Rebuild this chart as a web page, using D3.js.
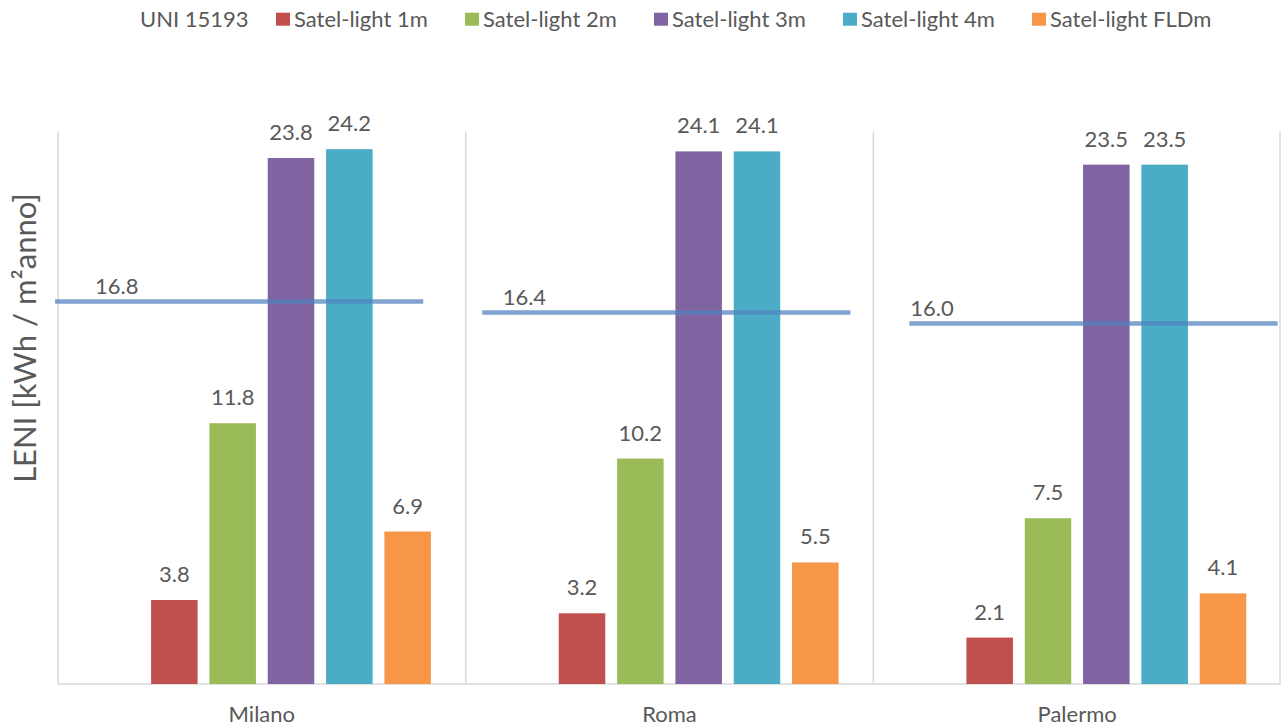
<!DOCTYPE html>
<html>
<head>
<meta charset="utf-8">
<script src="https://cdn.jsdelivr.net/npm/d3@7"></script>
<style>
  html, body { margin: 0; padding: 0; background: #fff; }
  svg { display: block; }
  text { font-family: Lato, "Open Sans", sans-serif; fill: #595959; }
</style>
</head>
<body>
<svg id="chart" width="1281" height="726"></svg>
<script>
// ---- data ----
const categories = ["Milano", "Roma", "Palermo"];
const seriesNames = ["UNI 15193", "Satel-light 1m", "Satel-light 2m", "Satel-light 3m", "Satel-light 4m", "Satel-light FLDm"];
const uni15193 = [16.8, 16.4, 16.0];
const satel1m = [3.8, 3.2, 2.1];
const satel2m = [11.8, 10.2, 7.5];
const satel3m = [23.8, 24.1, 23.5];
const satel4m = [24.2, 24.1, 23.5];
const satelFLDm = [6.9, 5.5, 4.1];
const yTitle = "LENI [kWh / m²anno]";
const colors = ["none", "#c0504d", "#9bbb59", "#8064a2", "#4bacc6", "#f79646"];

const barSeries = [
  { name: seriesNames[1], values: satel1m, color: colors[1] },
  { name: seriesNames[2], values: satel2m, color: colors[2] },
  { name: seriesNames[3], values: satel3m, color: colors[3] },
  { name: seriesNames[4], values: satel4m, color: colors[4] },
  { name: seriesNames[5], values: satelFLDm, color: colors[5] }
];

// ---- layout ----
const svg = d3.select("#chart");
const plot = { left: 58, right: 1281, top: 131.5, bottom: 684 };

const x0 = d3.scaleBand().domain(categories).range([plot.left, plot.right]).padding(0);
// six slots per category: the first one belongs to UNI 15193 (not drawn as a bar)
const x1 = d3.scaleBand().domain(d3.range(6)).range([0, x0.bandwidth()])
  .paddingInner(0.2024).paddingOuter(0.596);
const y = d3.scaleLinear().domain([0, 25]).range([plot.bottom, plot.top]);
// secondary axes used by the UNI 15193 reference segments
const x2 = d3.scaleLinear().domain([0, 3]).range([55, 55 + 3 * 427.2]);
const y2 = d3.scaleLinear().domain([2.95, 22.95]).range([plot.bottom, plot.top]);
const segLen = 0.862;

// vertical category separators
const sepX = categories.map(c => x0(c)).concat([plot.right - 1]);
svg.append("g").selectAll("line").data(sepX).join("line")
  .attr("x1", d => d).attr("x2", d => d)
  .attr("y1", plot.top).attr("y2", plot.bottom)
  .attr("stroke", "#d9d9d9").attr("stroke-width", 1.5);

// baseline axis
svg.append("line")
  .attr("x1", plot.left).attr("x2", plot.right)
  .attr("y1", plot.bottom).attr("y2", plot.bottom)
  .attr("stroke", "#d9d9d9").attr("stroke-width", 1.5);

// bars
const gBars = svg.append("g");
barSeries.forEach((s, si) => {
  gBars.selectAll(null).data(categories).join("rect")
    .attr("x", (c) => x0(c) + x1(si + 1))
    .attr("width", x1.bandwidth())
    .attr("y", (c, i) => y(s.values[i]))
    .attr("height", (c, i) => y(0) - y(s.values[i]))
    .attr("fill", s.color);
  gBars.selectAll(null).data(categories).join("text")
    .attr("x", (c) => x0(c) + x1(si + 1) + x1.bandwidth() / 2)
    .attr("y", (c, i) => y(s.values[i]) - 18)
    .attr("text-anchor", "middle")
    .attr("font-size", 22)
    .attr("fill", "#404040")
    .text((c, i) => s.values[i].toFixed(1));
});

// UNI 15193 reference segments
const gLine = svg.append("g");
gLine.selectAll("line").data(uni15193).join("line")
  .attr("x1", (d, i) => x2(i)).attr("x2", (d, i) => x2(i + segLen))
  .attr("y1", d => y2(d)).attr("y2", d => y2(d))
  .attr("stroke", "#4f81bd").attr("stroke-opacity", 0.72).attr("stroke-width", 4.5);
gLine.selectAll("text").data(uni15193).join("text")
  .attr("x", (d, i) => x0(categories[i]) + 37)
  .attr("y", d => y2(d) - 7)
  .attr("font-size", 22)
  .attr("fill", "#404040")
  .text(d => d.toFixed(1));

// category labels
svg.append("g").selectAll("text").data(categories).join("text")
  .attr("x", c => x0(c) + x0.bandwidth() / 2)
  .attr("y", 722)
  .attr("text-anchor", "middle")
  .attr("font-size", 22)
  .text(c => c);

// y axis title
svg.append("text")
  .attr("transform", "translate(36,338) rotate(-90)")
  .attr("text-anchor", "middle")
  .attr("font-size", 31)
  .text(yTitle);

// legend (equal-width entries)
const legX = d3.scaleLinear().domain([0, 5]).range([87, 87 + 5 * 189]);
const leg = svg.append("g");
seriesNames.forEach((n, i) => {
  if (i > 0) {
    leg.append("rect")
      .attr("x", legX(i)).attr("y", 12.7)
      .attr("width", 14).attr("height", 13)
      .attr("fill", colors[i]);
  }
  leg.append("text")
    .attr("x", i === 0 ? legX(i) + 53 : legX(i) + 18)
    .attr("y", 26.5)
    .attr("font-size", 22)
    .text(n);
});
</script>
</body>
</html>
